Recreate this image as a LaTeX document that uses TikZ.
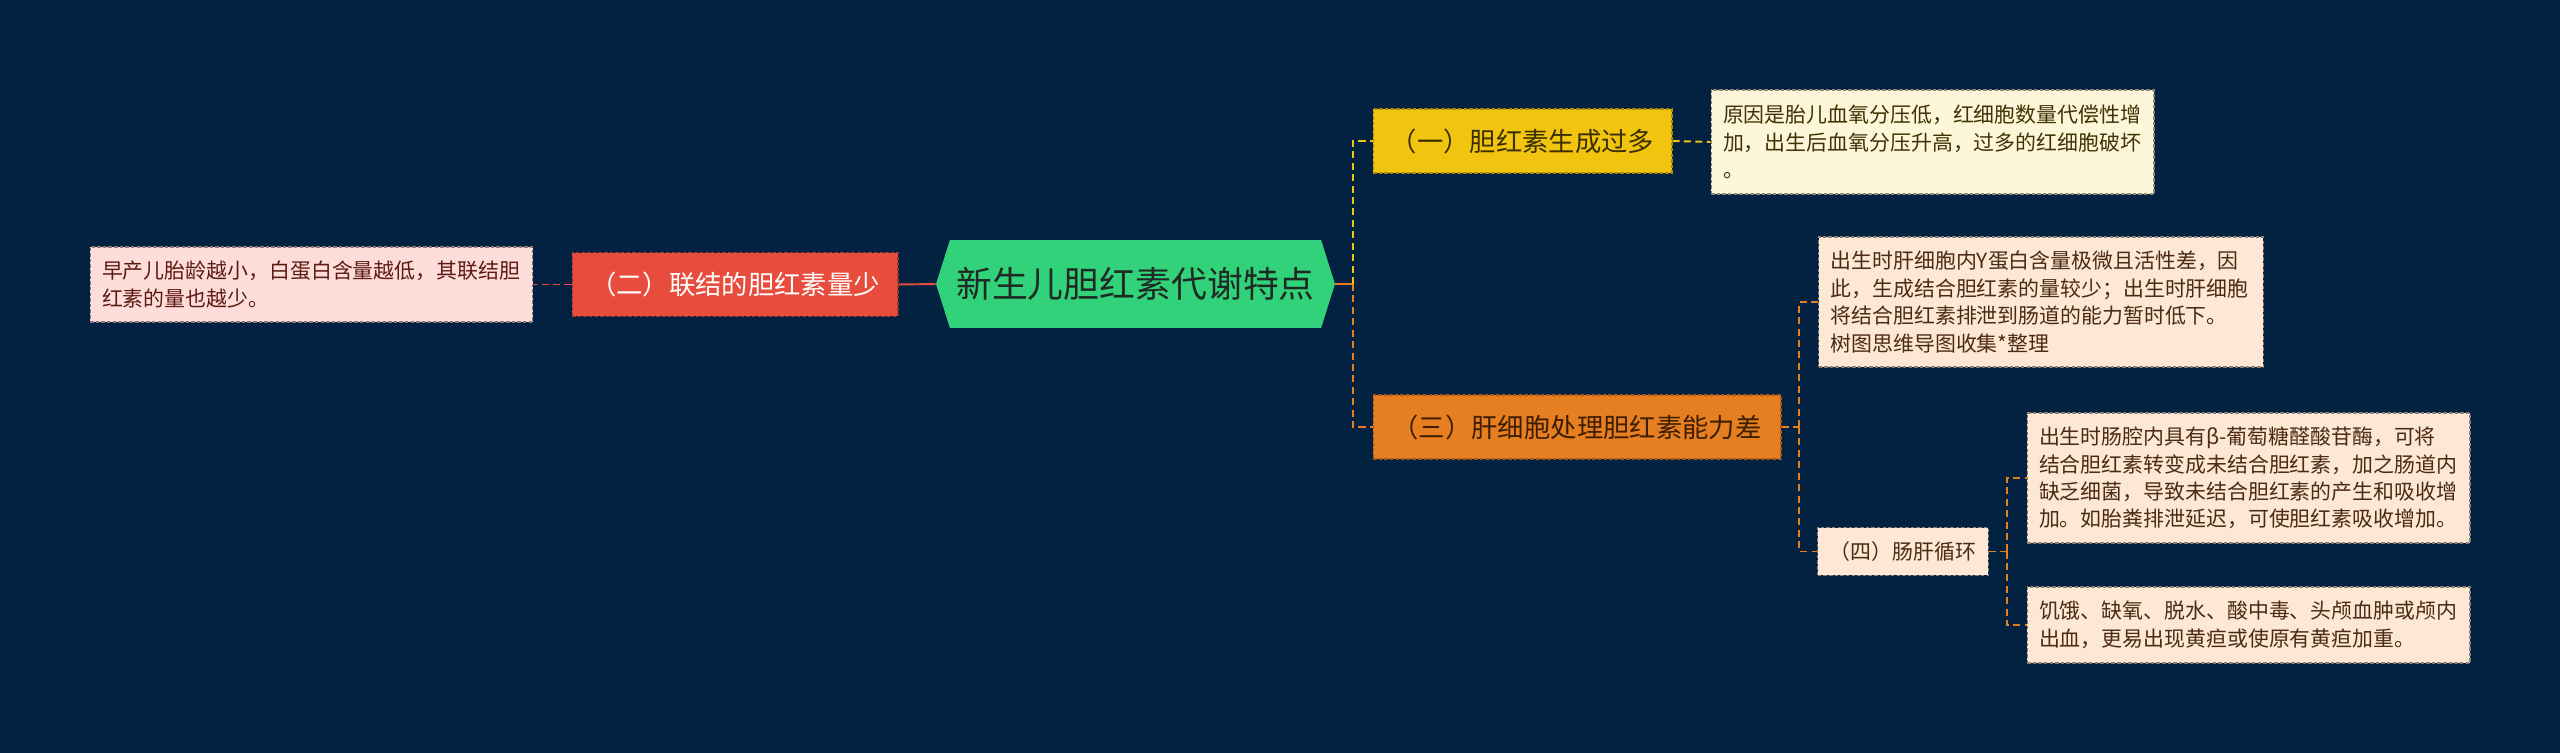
\documentclass[tikz,border=0pt]{standalone}
\usepackage{fontspec}
\setmainfont{Noto Sans CJK SC}
\usepackage{xcolor}
\usepackage{tikz}
\usetikzlibrary{shapes.symbols,positioning,calc}

\definecolor{bgnavy}{HTML}{032140}
\definecolor{rootgreen}{HTML}{31D27A}
\definecolor{roottext}{HTML}{1E2B24}
\definecolor{redtopic}{HTML}{E74C3C}
\definecolor{pinkleaf}{HTML}{FDDDD9}
\definecolor{pinktext}{HTML}{5E1A12}
\definecolor{yellowtopic}{HTML}{F1C40F}
\definecolor{yellowtext}{HTML}{3B2F00}
\definecolor{creamleaf}{HTML}{FEF6D8}
\definecolor{creamtext}{HTML}{3D3305}
\definecolor{orangetopic}{HTML}{E67E22}
\definecolor{orangetext}{HTML}{3E1E00}
\definecolor{peachleaf}{HTML}{FCE8D5}
\definecolor{peachtext}{HTML}{4D2A12}

\begin{document}
\begin{tikzpicture}[x=0.02cm, y=-0.02cm,
  box/.style={rectangle, inner xsep=0.24cm, inner ysep=0pt, line width=0.6pt, dash pattern=on 2pt off 1.2pt},
  leaf/.style={box, align=left, font=\fontsize{11.9}{15.6}\selectfont},
  topic/.style={box, minimum height=1.28cm, font=\fontsize{15}{18}\selectfont},
  link/.style={line width=1.1pt, dash pattern=on 4pt off 2.5pt},
]
  % Background
  \useasboundingbox (0,0) rectangle (2560,753);
  \fill[bgnavy] (0,0) rectangle (2560,753);

  % Root
  \node[signal, signal to=west and east, signal pointer angle=145, fill=rootgreen, text=roottext,
    minimum width=7.98cm, minimum height=1.76cm, inner sep=0pt,
    font=\fontsize{20.4}{24}\selectfont] (root) at (1135.5, 284) {新生儿胆红素代谢特点};

  % Left branch
  \node[topic, fill=redtopic, draw=redtopic!70!black, text=white, minimum width=6.52cm] (redbr) at (735, 284.5) {（二）联结的胆红素量少};
  \node[leaf, fill=pinkleaf, draw=pinkleaf!55!black, text=pinktext, text width=8.38cm, minimum height=1.5cm] (pinkleaf) at (311.5, 284.5)
    {早产儿胎龄越小，白蛋白含量越低，其联结胆\\红素的量也越少。};

  % Right branch (一)
  \node[topic, fill=yellowtopic, draw=yellowtopic!70!black, text=yellowtext, minimum width=5.98cm] (yellowbr) at (1522.5, 141) {（一）胆红素生成过多};
  \node[leaf, fill=creamleaf, draw=creamleaf!55!black, text=creamtext, text width=8.38cm, minimum height=2.08cm] (creamleaf) at (1932.5, 142)
    {原因是胎儿血氧分压低，红细胞数量代偿性增\\加，出生后血氧分压升高，过多的红细胞破坏\\。};

  % Right branch (三)
  \node[topic, fill=orangetopic, draw=orangetopic!70!black, text=orangetext, minimum width=8.16cm] (orangebr) at (1577, 427) {（三）肝细胞处理胆红素能力差};
  \node[leaf, fill=peachleaf, draw=peachleaf!55!black, text=peachtext, text width=8.42cm, minimum height=2.6cm] (liverleaf) at (2041, 302)
    {出生时肝细胞内Y蛋白含量极微且活性差，因\\此，生成结合胆红素的量较少；出生时肝细胞\\将结合胆红素排泄到肠道的能力暂时低下。\\树图思维导图收集*整理};
  \node[box, fill=peachleaf, draw=peachleaf!55!black, text=peachtext, minimum width=3.4cm, minimum height=0.96cm,
    font=\fontsize{11.9}{15.6}\selectfont] (gutbr) at (1903, 551.5) {（四）肠肝循环};
  \node[leaf, fill=peachleaf, draw=peachleaf!55!black, text=peachtext, text width=8.38cm, minimum height=2.6cm] (gutleafa) at (2248.5, 478)
    {出生时肠腔内具有β-葡萄糖醛酸苷酶，可将\\结合胆红素转变成未结合胆红素，加之肠道内\\缺乏细菌，导致未结合胆红素的产生和吸收增\\加。如胎粪排泄延迟，可使胆红素吸收增加。};
  \node[leaf, fill=peachleaf, draw=peachleaf!55!black, text=peachtext, text width=8.38cm, minimum height=1.52cm] (gutleafb) at (2248.5, 625)
    {饥饿、缺氧、脱水、酸中毒、头颅血肿或颅内\\出血，更易出现黄疸或使原有黄疸加重。};

  % Junctions
  \coordinate (rootjoin) at (1353, 284);
  \coordinate (liverjoin) at (1799, 427);
  \coordinate (gutjoin) at (2007, 551.5);

  % Connectors
  \draw[redtopic, line width=1.1pt] (root.west) -- (redbr.east);
  \draw[link, redtopic] (redbr.west) -- (pinkleaf.east);
  \draw[orangetopic, line width=1.1pt] (root.east) -- (rootjoin);
  \draw[link, yellowtopic] (rootjoin) |- (yellowbr.west);
  \draw[link, yellowtopic] (yellowbr.east) -- (creamleaf.west);
  \draw[link, orangetopic] (rootjoin) |- (orangebr.west);
  \draw[link, orangetopic] (orangebr.east) -- (liverjoin);
  \draw[link, orangetopic] (liverjoin) |- (liverleaf.west);
  \draw[link, orangetopic] (liverjoin) |- (gutbr.west);
  \draw[link, orangetopic] (gutbr.east) -- (gutjoin);
  \draw[link, orangetopic] (gutjoin) |- (gutleafa.west);
  \draw[link, orangetopic] (gutjoin) |- (gutleafb.west);
\end{tikzpicture}
\end{document}
